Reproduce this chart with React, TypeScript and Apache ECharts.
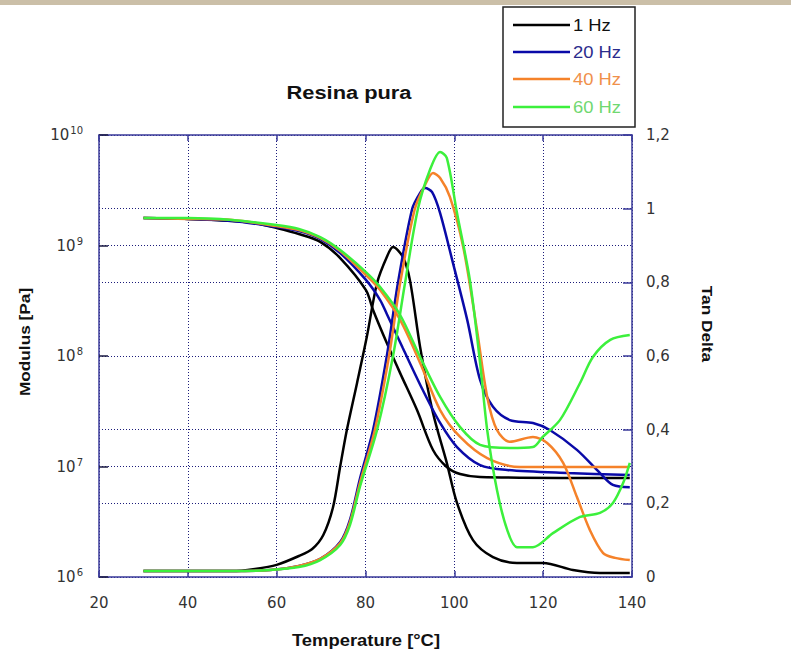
import React, { useEffect, useRef } from "react";
import * as echarts from "echarts";

// ---------- data (temperature in °C, modulus in Pa, tan delta) ----------
const xTicks = [20, 40, 60, 80, 100, 120, 140];
const tanTicks = [0, 0.2, 0.4, 0.6, 0.8, 1, 1.2];
const legendNames = ["1 Hz", "20 Hz", "40 Hz", "60 Hz"];

// storage modulus curves
const tModBlack = [30, 40, 50, 55.1, 60, 65, 69.8, 74.3, 80.1, 81.7, 84.8, 87.8, 91.6, 95.2, 98.3, 101.3, 105.8, 139.5];
const modBlack = [1.77e9, 1.74e9, 1.67e9, 1.6e9, 1.44e9, 1.27e9, 1.08e9, 7.7e8, 3.95e8, 2.61e8, 1.31e8, 7.0e7, 3.24e7, 1.41e7, 9.9e6, 8.55e6, 8.04e6, 7.87e6];

const tModBlue = [30, 40, 50, 60, 65, 69.8, 74.3, 80.1, 83.3, 84.8, 88.4, 92.9, 96.8, 100.6, 105.8, 111.9, 125.4, 139.5];
const modBlue = [1.77e9, 1.74e9, 1.67e9, 1.47e9, 1.35e9, 1.15e9, 8.55e8, 4.88e8, 3.21e8, 2.4e8, 1.18e8, 4.92e7, 2.48e7, 1.5e7, 1.03e7, 9.3e6, 8.73e6, 8.38e6];

const tModOrange = [30, 40, 50, 60, 65, 69.8, 74.3, 80.1, 83.3, 87.8, 92.3, 96.8, 101.3, 107.4, 114.8, 139.5];
const modOrange = [1.77e9, 1.74e9, 1.7e9, 1.5e9, 1.38e9, 1.17e9, 8.9e8, 5.4e8, 3.95e8, 2.12e8, 8.65e7, 3.24e7, 1.85e7, 1.19e7, 9.9e6, 9.9e6];

const tModGreen = [30, 40, 50, 60, 65, 69.8, 74.3, 80.1, 83.3, 87.8, 92.3, 96.8, 101.3, 105.8, 112.5, 117.7, 119.9, 123.8, 128.3, 131.2, 135.1, 139.5];
const modGreen = [1.77e9, 1.77e9, 1.7e9, 1.53e9, 1.41e9, 1.19e9, 9.1e8, 5.75e8, 4.21e8, 2.35e8, 9.8e7, 4.26e7, 2.27e7, 1.57e7, 1.47e7, 1.5e7, 1.85e7, 2.64e7, 5.7e7, 9.8e7, 1.4e8, 1.55e8];

// tan delta curves
const tTanBlack = [30, 40, 50, 55.1, 60, 65, 68, 70.5, 72.7, 74.3, 75.8, 78.1, 80.3, 82.6, 84.8, 86.2, 88.4, 90.0, 92.3, 95.2, 98.3, 100.6, 104.2, 108.7, 114.1, 120, 126.7, 132.8, 139.5];
const tanBlack = [0.016, 0.016, 0.016, 0.022, 0.033, 0.057, 0.076, 0.114, 0.19, 0.3, 0.399, 0.527, 0.652, 0.798, 0.869, 0.896, 0.869, 0.806, 0.624, 0.445, 0.31, 0.201, 0.1, 0.054, 0.038, 0.038, 0.019, 0.011, 0.011];

const tTanBlue = [30, 50, 58.5, 65, 69.8, 74.3, 76.5, 78.8, 81.7, 84.8, 87.3, 90.5, 92.3, 93.4, 95.0, 96.8, 99.7, 102.9, 105.8, 108.7, 112.5, 117.7, 121.5, 127.6, 132.8, 135.7, 139.5];
const tanBlue = [0.016, 0.016, 0.019, 0.03, 0.049, 0.095, 0.155, 0.269, 0.399, 0.6, 0.798, 0.999, 1.043, 1.056, 1.045, 0.988, 0.852, 0.698, 0.535, 0.462, 0.426, 0.418, 0.399, 0.345, 0.282, 0.25, 0.244];

const tTanOrange = [30, 50, 58.5, 65, 69.8, 74.3, 76.5, 78.8, 82.1, 85.3, 87.8, 91.1, 93.4, 95.2, 96.8, 99.0, 102.0, 105.1, 107.4, 109.6, 112.5, 117.7, 120.9, 124.5, 127.6, 130.5, 133.5, 136.2, 139.5];
const tanOrange = [0.016, 0.016, 0.019, 0.03, 0.049, 0.092, 0.149, 0.258, 0.399, 0.6, 0.798, 0.999, 1.064, 1.097, 1.083, 1.032, 0.896, 0.671, 0.489, 0.399, 0.367, 0.38, 0.364, 0.31, 0.217, 0.128, 0.065, 0.052, 0.046];

const tTanGreen = [30, 50, 58.5, 65, 69.8, 74.3, 76.5, 78.8, 82.6, 86.2, 88.9, 91.8, 94.5, 96.8, 98.3, 100.6, 103.5, 105.8, 107.4, 109.6, 111.9, 114.1, 117.7, 122.2, 128.3, 132.8, 135.7, 138.0, 139.5];
const tanGreen = [0.016, 0.016, 0.019, 0.027, 0.046, 0.087, 0.141, 0.247, 0.399, 0.6, 0.798, 0.999, 1.105, 1.154, 1.138, 0.988, 0.806, 0.581, 0.399, 0.236, 0.128, 0.081, 0.081, 0.119, 0.163, 0.174, 0.201, 0.255, 0.31];

const colors = ["#000000", "#0a0aa8", "#f5822a", "#3cf03c"];
const legendTextColors = ["#111111", "#2b2b8c", "#f0904a", "#70d870"];

const pair = (xs: number[], ys: number[]) => xs.map((x, i) => [x, ys[i]]);

const FONT = '"Liberation Sans", Arial, sans-serif';
const TICKFONT = '"DejaVu Sans", "Liberation Sans", sans-serif';
const FRAME = "#3a3a9a";
const GRID = "#1c1c7a";

export default function App() {
  const ref = useRef<HTMLDivElement>(null);

  useEffect(() => {
    if (!ref.current) return;
    const chart = echarts.init(ref.current, null, { renderer: "svg" });

    const mk = (name: string, data: number[][], color: string, yIdx: number) => ({
      name,
      type: "line",
      yAxisIndex: yIdx,
      data,
      symbol: "none",
      smooth: 0.3,
      lineStyle: { color, width: 2.5 },
      itemStyle: { color },
      z: 3,
    });

    const series = [
      mk("E' 1 Hz", pair(tModBlack, modBlack), colors[0], 0),
      mk("tan 1 Hz", pair(tTanBlack, tanBlack), colors[0], 1),
      mk("E' 20 Hz", pair(tModBlue, modBlue), colors[1], 0),
      mk("tan 20 Hz", pair(tTanBlue, tanBlue), colors[1], 1),
      mk("E' 40 Hz", pair(tModOrange, modOrange), colors[2], 0),
      mk("tan 40 Hz", pair(tTanOrange, tanOrange), colors[2], 1),
      mk("E' 60 Hz", pair(tModGreen, modGreen), colors[3], 0),
      mk("tan 60 Hz", pair(tTanGreen, tanGreen), colors[3], 1),
    ];

    const legendY = [25, 52, 79, 107];
    const legendGraphics: any[] = [
      {
        type: "rect",
        shape: { x: 503, y: 7, width: 132, height: 120 },
        style: { fill: "#ffffff", stroke: "#222222", lineWidth: 1.5 },
        z: 10,
      },
    ];
    legendNames.forEach((n, i) => {
      legendGraphics.push({
        type: "line",
        shape: { x1: 513, y1: legendY[i], x2: 570, y2: legendY[i] },
        style: { stroke: colors[i], lineWidth: 2.5 },
        z: 11,
      });
      legendGraphics.push({
        type: "text",
        x: 573,
        y: legendY[i],
        scaleX: 1.15,
        style: {
          text: n,
          fill: legendTextColors[i],
          font: `16px ${FONT}`,
          verticalAlign: "middle",
          align: "left",
        },
        z: 11,
      });
    });

    const option: any = {
      animation: false,
      backgroundColor: "#ffffff",
      grid: { left: 99, right: 159, top: 135, bottom: 79, containLabel: false },
      xAxis: [
        {
          type: "value",
          min: xTicks[0],
          max: xTicks[xTicks.length - 1],
          interval: 20,
          position: "bottom",
          axisLine: { show: true, lineStyle: { color: FRAME, width: 1.5 } },
          axisTick: { show: true, inside: true, length: 6, lineStyle: { color: FRAME, width: 1.5 } },
          axisLabel: { color: "#333333", fontSize: 15, fontFamily: TICKFONT, margin: 18 },
          splitLine: { show: true, lineStyle: { color: GRID, type: [1, 2], width: 1 } },
        },
        {
          type: "value",
          min: xTicks[0],
          max: xTicks[xTicks.length - 1],
          interval: 20,
          position: "top",
          axisLine: { show: true, lineStyle: { color: FRAME, width: 1.5 } },
          axisTick: { show: true, inside: true, length: 6, lineStyle: { color: FRAME, width: 1.5 } },
          axisLabel: { show: false },
          splitLine: { show: false },
        },
      ],
      yAxis: [
        {
          type: "log",
          logBase: 10,
          min: 1e6,
          max: 1e10,
          position: "left",
          axisLine: { show: true, lineStyle: { color: FRAME, width: 1.5 } },
          axisTick: { show: true, inside: true, length: 9, lineStyle: { color: "#1a1a40", width: 1.5 } },
          axisLabel: {
            margin: 16,
            formatter: (v: number) => `{b|10}{s|${Math.round(Math.log10(v))}}`,
            rich: {
              b: { fontSize: 15, fontFamily: TICKFONT, color: "#333333" },
              s: { fontSize: 10, fontFamily: TICKFONT, color: "#333333", padding: [0, 0, 9, 1] },
            },
          },
          splitLine: { show: true, lineStyle: { color: GRID, type: [1, 2], width: 1 } },
        },
        {
          type: "value",
          min: tanTicks[0],
          max: tanTicks[tanTicks.length - 1],
          interval: 0.2,
          position: "right",
          axisLine: { show: true, lineStyle: { color: FRAME, width: 1.5 } },
          axisTick: { show: true, inside: true, length: 9, lineStyle: { color: FRAME, width: 1.5 } },
          axisLabel: {
            margin: 14,
            color: "#333333",
            fontSize: 15,
            fontFamily: TICKFONT,
            formatter: (v: number) => String(Math.round(v * 10) / 10).replace(".", ","),
          },
          splitLine: { show: true, lineStyle: { color: GRID, type: [1, 2], width: 1 } },
        },
      ],
      series,
      graphic: [
        {
          type: "rect",
          shape: { x: 0, y: 0, width: 791, height: 5 },
          style: { fill: "#cbbfa8" },
          z: 0,
        },
        {
          type: "text",
          x: 349,
          y: 92,
          scaleX: 1.15,
          style: {
            text: "Resina pura",
            fill: "#111111",
            font: `bold 19px ${FONT}`,
            align: "center",
            verticalAlign: "middle",
          },
        },
        {
          type: "text",
          x: 24,
          y: 342,
          rotation: Math.PI / 2,
          scaleX: 1.15,
          style: {
            text: "Modulus [Pa]",
            fill: "#111111",
            font: `bold 15px ${FONT}`,
            align: "center",
            verticalAlign: "middle",
          },
        },
        {
          type: "text",
          x: 708,
          y: 324,
          rotation: -Math.PI / 2,
          scaleX: 1.15,
          style: {
            text: "Tan Delta",
            fill: "#111111",
            font: `bold 15px ${FONT}`,
            align: "center",
            verticalAlign: "middle",
          },
        },
        {
          type: "text",
          x: 366,
          y: 640,
          scaleX: 1.15,
          style: {
            text: "Temperature [°C]",
            fill: "#111111",
            font: `bold 16px ${FONT}`,
            align: "center",
            verticalAlign: "middle",
          },
        },
        ...legendGraphics,
      ],
    };

    chart.setOption(option);
    return () => chart.dispose();
  }, []);

  return (
    <div
      ref={ref}
      style={{ position: "absolute", left: 0, top: 0, width: 791, height: 656 }}
    />
  );
}
